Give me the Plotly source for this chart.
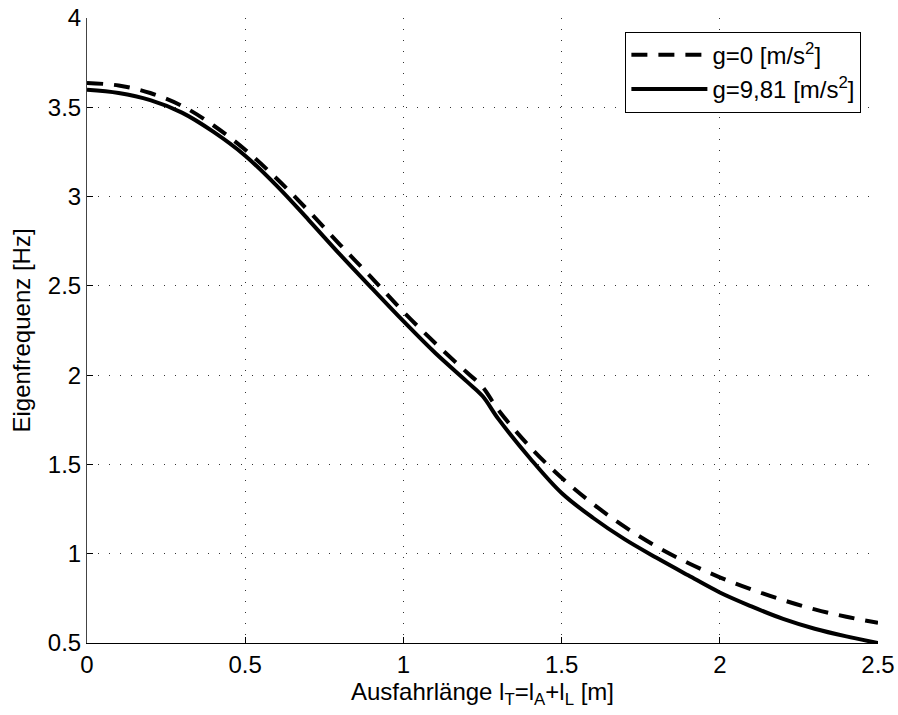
import plotly.graph_objects as go

# Ausfahrlänge l_T [m]
laenge = [0.0, 0.1, 0.2, 0.3, 0.4, 0.5, 0.6, 0.7, 0.8, 0.9, 1.0, 1.1, 1.2, 1.25,
          1.3, 1.4, 1.5, 1.6, 1.7, 1.8, 1.9, 2.0, 2.1, 2.2, 2.3, 2.4, 2.5]

# Eigenfrequenz [Hz] ohne Gravitation (g = 0)
freq_g0 = [3.636, 3.622, 3.580, 3.508, 3.398, 3.262, 3.100, 2.920, 2.730, 2.545,
           2.355, 2.180, 2.016, 1.935, 1.805, 1.598, 1.425, 1.278, 1.150, 1.040,
           0.948, 0.868, 0.800, 0.740, 0.688, 0.647, 0.613]

# Eigenfrequenz [Hz] mit Gravitation (g = 9,81)
freq_g981 = [3.598, 3.580, 3.540, 3.470, 3.362, 3.229, 3.060, 2.870, 2.675, 2.487,
             2.302, 2.125, 1.965, 1.883, 1.755, 1.535, 1.340, 1.200, 1.080, 0.977,
             0.879, 0.783, 0.705, 0.635, 0.580, 0.537, 0.500]

x_ticks = [0, 0.5, 1, 1.5, 2, 2.5]
y_ticks = [0.5, 1, 1.5, 2, 2.5, 3, 3.5, 4]

FONT = "Liberation Sans, Arial, sans-serif"
FS = 24

fig = go.Figure()
fig.add_trace(go.Scatter(
    x=laenge, y=freq_g0, mode="lines", name="g=0 [m/s<sup>2</sup>]",
    line=dict(color="black", width=4, dash="16px,11px", shape="spline", smoothing=1.0),
))
fig.add_trace(go.Scatter(
    x=laenge, y=freq_g981, mode="lines", name="g=9,81 [m/s<sup>2</sup>]",
    line=dict(color="black", width=4, shape="spline", smoothing=1.0),
))

grid = dict(showgrid=True, gridcolor="#333", gridwidth=1, griddash="1px,10px")

fig.update_xaxes(
    range=[0, 2.5], tickvals=x_ticks, ticktext=[f"{v:g}" for v in x_ticks],
    ticks="inside", ticklen=6, tickcolor="black", automargin=False,
    showline=True, linecolor="black", linewidth=1, zeroline=False,
    tickfont=dict(family=FONT, size=FS, color="black"),
    title=dict(text="Ausfahrlänge l<sub>T</sub>=l<sub>A</sub>+l<sub>L</sub> [m]",
               font=dict(family=FONT, size=FS, color="black"), standoff=2),
    **grid,
)
fig.update_yaxes(
    range=[0.5, 4], tickvals=y_ticks, ticktext=[f"{v:g}" for v in y_ticks],
    ticks="inside", ticklen=6, tickcolor="black", automargin=False,
    showline=True, linecolor="#444", linewidth=1, zeroline=False,
    tickfont=dict(family=FONT, size=FS, color="black"),
    title=dict(text="Eigenfrequenz [Hz]",
               font=dict(family=FONT, size=FS, color="black"), standoff=10),
    **grid,
)

fig.update_layout(
    width=898, height=715,
    margin=dict(l=87, r=20, t=18, b=72),
    paper_bgcolor="white", plot_bgcolor="white",
    font=dict(family=FONT, size=FS, color="black"),
    legend=dict(
        x=0.979, y=0.978, xanchor="right", yanchor="top",
        bgcolor="white", bordercolor="black", borderwidth=1,
        itemwidth=76, font=dict(family=FONT, size=FS, color="black"),
        tracegroupgap=0,
    ),
    showlegend=True,
)

fig.write_html("out.html")
